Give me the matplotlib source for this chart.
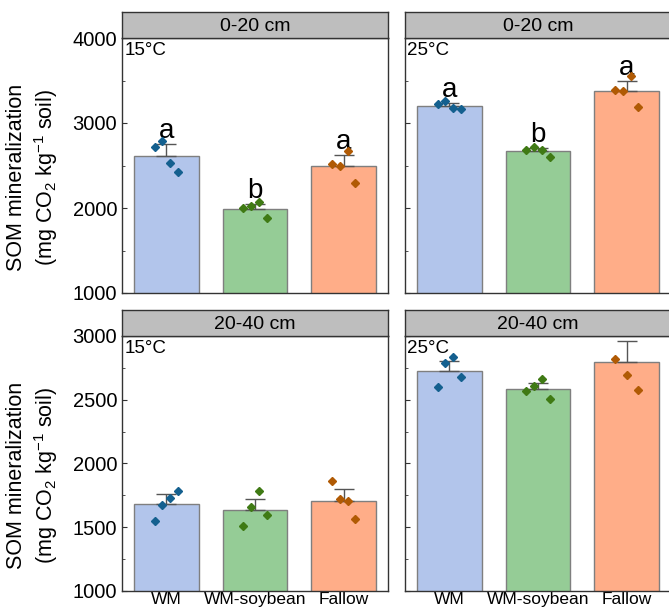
import numpy as np
import matplotlib
matplotlib.use("Agg")
import matplotlib.pyplot as plt
from matplotlib.ticker import MultipleLocator

plt.rcParams['font.family'] = ['Liberation Sans', 'DejaVu Sans']
plt.rcParams['mathtext.fontset'] = 'custom'
plt.rcParams['mathtext.rm'] = 'Liberation Sans'
plt.rcParams['mathtext.it'] = 'Liberation Sans:italic'

treatments = ["WM", "WM-soybean", "Fallow"]
depths = ["0-20 cm", "20-40 cm"]
temps = ["15°C", "25°C"]

# bar means, upper error (SE) and replicate points, per depth / temperature
mean_0_20_15 = [2615, 1993, 2495]
err_0_20_15 = [133, 59, 124]
pts_0_20_15 = [[2721, 2787, 2533, 2420], [1997, 2029, 2068, 1880], [2518, 2494, 2670, 2299]]
let_0_20_15 = ["a", "b", "a"]

mean_0_20_25 = [3205, 2670, 3375]
err_0_20_25 = [28, 35, 116]
pts_0_20_25 = [[3225, 3255, 3180, 3170], [2682, 2713, 2682, 2600], [3386, 3374, 3550, 3190]]
let_0_20_25 = ["a", "b", "a"]

mean_20_40_15 = [1686, 1634, 1709]
err_20_40_15 = [73, 88, 91]
pts_20_40_15 = [[1548, 1673, 1730, 1782], [1508, 1660, 1782, 1595], [1860, 1722, 1704, 1561]]

mean_20_40_25 = [2724, 2585, 2797]
err_20_40_25 = [83, 47, 164]
pts_20_40_25 = [[2598, 2786, 2838, 2682], [2570, 2604, 2661, 2507], [2823, 2695, 2578]]

bar_colors = ["#B2C5EB", "#95CC96", "#FFAD88"]
dot_colors = ["#14608F", "#3F7A14", "#B05A04"]

panels = [
    (mean_0_20_15, err_0_20_15, pts_0_20_15, let_0_20_15, 0, 0),
    (mean_0_20_25, err_0_20_25, pts_0_20_25, let_0_20_25, 0, 1),
    (mean_20_40_15, err_20_40_15, pts_20_40_15, None, 1, 0),
    (mean_20_40_25, err_20_40_25, pts_20_40_25, None, 1, 1),
]

W, H = 669, 613
fig = plt.figure(figsize=(W / 100, H / 100), dpi=100)

col_left = [122, 405]
ax_w = 266
row_top = [38, 336]
row_bot = [293, 591]
head_h = 26
ylims = [(1000, 4000), (1000, 3000)]
majors = [1000, 500]

x = np.arange(3)
for means, errs, pts, letters, r, c in panels:
    l = col_left[c] / W
    b = 1 - row_bot[r] / H
    h = (row_bot[r] - row_top[r]) / H
    ax = fig.add_axes([l, b, ax_w / W, h])

    ax.bar(x, means, width=0.73, color=bar_colors, edgecolor="#7F7F7F", linewidth=1, zorder=2)
    ax.errorbar(x, means, yerr=[np.zeros(3), errs], fmt="none", ecolor="#555555",
                elinewidth=1, capsize=7, capthick=1, zorder=3)
    for i in range(3):
        jit = np.linspace(-0.13, 0.13, len(pts[i]))
        ax.plot(x[i] + jit, pts[i], "D", color=dot_colors[i], markersize=4.5, zorder=4)
        if letters:
            ax.annotate(letters[i], (x[i], means[i] + errs[i]), xytext=(0, 0),
                        textcoords="offset points", ha="center", va="bottom", fontsize=20)

    ax.set_xlim(-0.5, 2.5)
    ax.set_ylim(*ylims[r])
    ax.yaxis.set_major_locator(MultipleLocator(majors[r]))
    ax.yaxis.set_minor_locator(MultipleLocator(majors[r] / 2))
    ax.set_xticks(x)
    ax.tick_params(axis="both", which="both", direction="in", color="#333333")
    ax.tick_params(axis="both", which="major", length=3.5, labelsize=14.5)
    ax.tick_params(axis="y", which="minor", length=2)
    if r == 1:
        ax.set_xticklabels(treatments, fontsize=12.5)
        ax.tick_params(axis="x", pad=1)
    else:
        ax.set_xticklabels([])
    if c == 1:
        ax.set_yticklabels([])
    for s in ax.spines.values():
        s.set_color("#333333")
        s.set_linewidth(1)
    ax.text(0.008, 0.985, temps[c], transform=ax.transAxes, ha="left", va="top", fontsize=13.5)

    hax = fig.add_axes([l, 1 - row_top[r] / H, ax_w / W, head_h / H])
    hax.set_facecolor("#BEBEBE")
    hax.set_xticks([])
    hax.set_yticks([])
    for s in hax.spines.values():
        s.set_color("#333333")
        s.set_linewidth(1)
    hax.text(0.5, 0.45, depths[r], transform=hax.transAxes, ha="center", va="center", fontsize=14)

    if c == 0:
        yc = 1 - ((row_top[r] + row_bot[r]) / 2 + 12) / H
        fig.text(33 / W, yc, "SOM mineralization\n(mg CO$_2$ kg$^{-1}$ soil)", rotation=90,
                 ha="center", va="center", multialignment="center", fontsize=15.5,
                 linespacing=1.25)

fig.savefig("out.png", dpi=100)
